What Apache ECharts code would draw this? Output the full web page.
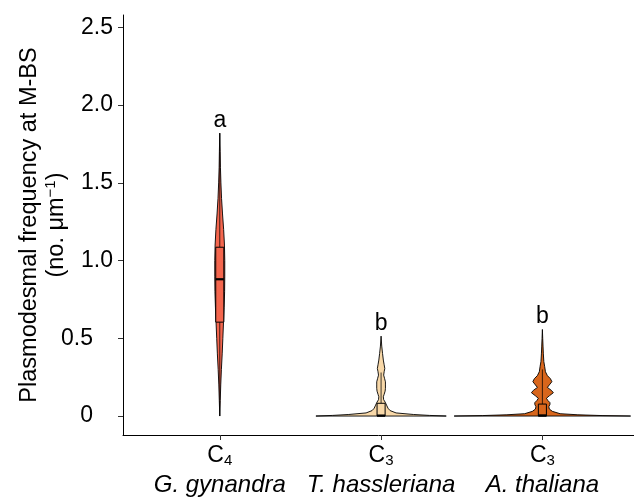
<!DOCTYPE html>
<html>
<head>
<meta charset="utf-8">
<script src="https://cdn.jsdelivr.net/npm/echarts@6/dist/echarts.min.js"></script>
<style>html,body{margin:0;padding:0;background:#fff}#c{width:634px;height:500px}</style>
</head>
<body>
<div id="c"></div>
<script>
// ---- data ----
const categories = ['G. gynandra', 'T. hassleriana', 'A. thaliana'];
const pathwaySub = ['4', '3', '3'];
const letters = ['a', 'b', 'b'];
const fillColors = ['#F4664E', '#F8D8A8', '#D8661C'];

// violin density profiles: value (no. µm-1) and half-width (category units)
const ggValues = [0, 0.1, 0.2, 0.3, 0.4, 0.5, 0.6, 0.7, 0.8, 0.9, 1.0, 1.1, 1.2, 1.3, 1.4, 1.5, 1.6, 1.7, 1.82];
const ggWidths = [0, 0.003, 0.006, 0.010, 0.015, 0.019, 0.023, 0.027, 0.030, 0.031, 0.031, 0.029, 0.024, 0.017, 0.011, 0.007, 0.004, 0.0025, 0];
const thValues = [0, 0.004, 0.01, 0.02, 0.035, 0.05, 0.07, 0.09, 0.105, 0.124, 0.14, 0.16, 0.178, 0.2, 0.22, 0.24, 0.263, 0.285, 0.306, 0.33, 0.36, 0.403, 0.45, 0.514];
const thWidths = [0.404, 0.30, 0.20, 0.093, 0.056, 0.043, 0.034, 0.025, 0.016, 0.014, 0.019, 0.025, 0.027, 0.027, 0.027, 0.022, 0.016, 0.019, 0.023, 0.019, 0.014, 0.009, 0.004, 0];
const atValues = [0, 0.003, 0.008, 0.015, 0.03, 0.045, 0.06, 0.075, 0.086, 0.10, 0.114, 0.13, 0.15, 0.165, 0.184, 0.20, 0.221, 0.24, 0.26, 0.285, 0.32, 0.35, 0.40, 0.45, 0.50, 0.557];
const atWidths = [0.547, 0.37, 0.22, 0.11, 0.062, 0.043, 0.040, 0.047, 0.047, 0.034, 0.025, 0.043, 0.068, 0.056, 0.031, 0.043, 0.059, 0.050, 0.031, 0.019, 0.014, 0.009, 0.006, 0.004, 0.002, 0];
const violinValues = [ggValues, thValues, atValues];
const violinWidths = [ggWidths, thWidths, atWidths];

// box plot statistics
const boxQ1 = [0.604, 0, 0];
const boxMedian = [0.88, 0.003, 0.004];
const boxQ3 = [1.086, 0.082, 0.077];
const whiskerLow = [0, 0, 0];
const whiskerHigh = [1.82, 0.28, 0.30];

// axis ticks
const yTickValues = [0, 0.5, 1.0, 1.5, 2.0, 2.5];
const yTickLabels = ['0', '0.5', '1.0', '1.5', '2.0', '2.5'];
const xTickValues = [1, 2, 3];

// ---- chart ----
const chart = echarts.init(document.getElementById('c'), null, {renderer: 'canvas'});
const FONT = 'Liberation Sans, Arial, sans-serif';
const BOX_HALF = 0.025;

function renderItem(params, api) {
  const i = params.dataIndex;
  const cx = i + 1;
  const vals = violinValues[i], wids = violinWidths[i];
  const pts = [];
  for (let k = 0; k < vals.length; k++) pts.push(api.coord([cx + wids[k], vals[k]]));
  for (let k = vals.length - 1; k >= 0; k--) pts.push(api.coord([cx - wids[k], vals[k]]));
  const children = [];
  children.push({type: 'polygon', shape: {points: pts, smooth: 0},
    style: {fill: fillColors[i], stroke: '#000', lineWidth: 0.9}});
  const pLowA = api.coord([cx, whiskerLow[i]]), pLowB = api.coord([cx, boxQ1[i]]);
  const pHiA = api.coord([cx, boxQ3[i]]), pHiB = api.coord([cx, whiskerHigh[i]]);
  children.push({type: 'line', shape: {x1: pLowA[0], y1: pLowA[1], x2: pLowB[0], y2: pLowB[1]},
    style: {stroke: 'rgba(0,0,0,0.75)', lineWidth: 1}});
  children.push({type: 'line', shape: {x1: pHiA[0], y1: pHiA[1], x2: pHiB[0], y2: pHiB[1]},
    style: {stroke: 'rgba(0,0,0,0.75)', lineWidth: 1}});
  const tl = api.coord([cx - BOX_HALF, boxQ3[i]]);
  const br = api.coord([cx + BOX_HALF, boxQ1[i]]);
  children.push({type: 'rect', shape: {x: tl[0], y: tl[1], width: br[0] - tl[0], height: Math.max(br[1] - tl[1], 1)},
    style: {fill: fillColors[i], stroke: '#000', lineWidth: 1}});
  const mA = api.coord([cx - BOX_HALF, boxMedian[i]]), mB = api.coord([cx + BOX_HALF, boxMedian[i]]);
  children.push({type: 'line', shape: {x1: mA[0], y1: mA[1], x2: mB[0], y2: mB[1]},
    style: {stroke: '#000', lineWidth: 2.2}});
  const top = api.coord([cx, vals[vals.length - 1]]);
  children.push({type: 'text', x: top[0], y: top[1] - 1,
    style: {text: letters[i], fill: '#000', font: '23px ' + FONT, align: 'center', verticalAlign: 'bottom'}});
  return {type: 'group', children: children};
}

chart.setOption({
  animation: false,
  backgroundColor: '#fff',
  grid: {left: 123, right: 0, top: 15, bottom: 65, containLabel: false, outerBoundsMode: 'none'},
  xAxis: {
    type: 'value', min: 0.4, max: 3.568,
    splitLine: {show: false},
    axisLine: {show: true, onZero: false, lineStyle: {color: '#000', width: 1}},
    axisTick: {show: true, customValues: xTickValues, length: 5, lineStyle: {color: '#333'}},
    axisLabel: {
      customValues: xTickValues, margin: 7,
      formatter: function (v) {
        const i = Math.round(v) - 1;
        return '{c|C}{s|' + pathwaySub[i] + '}\n{sp|' + categories[i] + '}';
      },
      rich: {
        c: {fontSize: 23, fontFamily: FONT, color: '#000', lineHeight: 28},
        s: {fontSize: 15, fontFamily: FONT, color: '#000', lineHeight: 15, verticalAlign: 'bottom', padding: [0, 0, 2, 0]},
        sp: {fontSize: 24, fontFamily: FONT, fontStyle: 'italic', color: '#000', lineHeight: 30}
      }
    }
  },
  yAxis: {
    type: 'value', min: -0.122, max: 2.58,
    splitLine: {show: false},
    axisLine: {show: true, onZero: false, lineStyle: {color: '#000', width: 1}},
    axisTick: {show: true, customValues: yTickValues, length: 5, lineStyle: {color: '#333'}},
    axisLabel: {
      customValues: yTickValues, margin: 10, color: '#000',
      formatter: function (v) {
        let best = 0;
        for (let k = 0; k < yTickValues.length; k++) if (Math.abs(yTickValues[k] - v) < Math.abs(yTickValues[best] - v)) best = k;
        return (yTickValues[best] < 1 ? '{lo|' : '{hi|') + yTickLabels[best] + '}';
      },
      rich: {
        hi: {fontSize: 23, fontFamily: FONT, color: '#000'},
        lo: {fontSize: 23, fontFamily: FONT, color: '#000', padding: [0, 20, 0, 0]}
      }
    },
    name: '{t|Plasmodesmal frequency at M-BS}\n{t|(no. μm}{u|−1}{t|)}',
    nameLocation: 'middle', nameRotate: 90, nameGap: 53, nameMoveOverlap: false,
    nameTextStyle: {
      rich: {
        t: {fontSize: 23.5, fontFamily: FONT, color: '#000', lineHeight: 27},
        u: {fontSize: 15, fontFamily: FONT, color: '#000', lineHeight: 27, verticalAlign: 'top'}
      }
    }
  },
  series: [{
    type: 'custom',
    renderItem: renderItem,
    data: categories.map(function (c, i) { return [i + 1, whiskerHigh[i]]; }),
    clip: false,
    silent: true
  }]
});
</script>
</body>
</html>
